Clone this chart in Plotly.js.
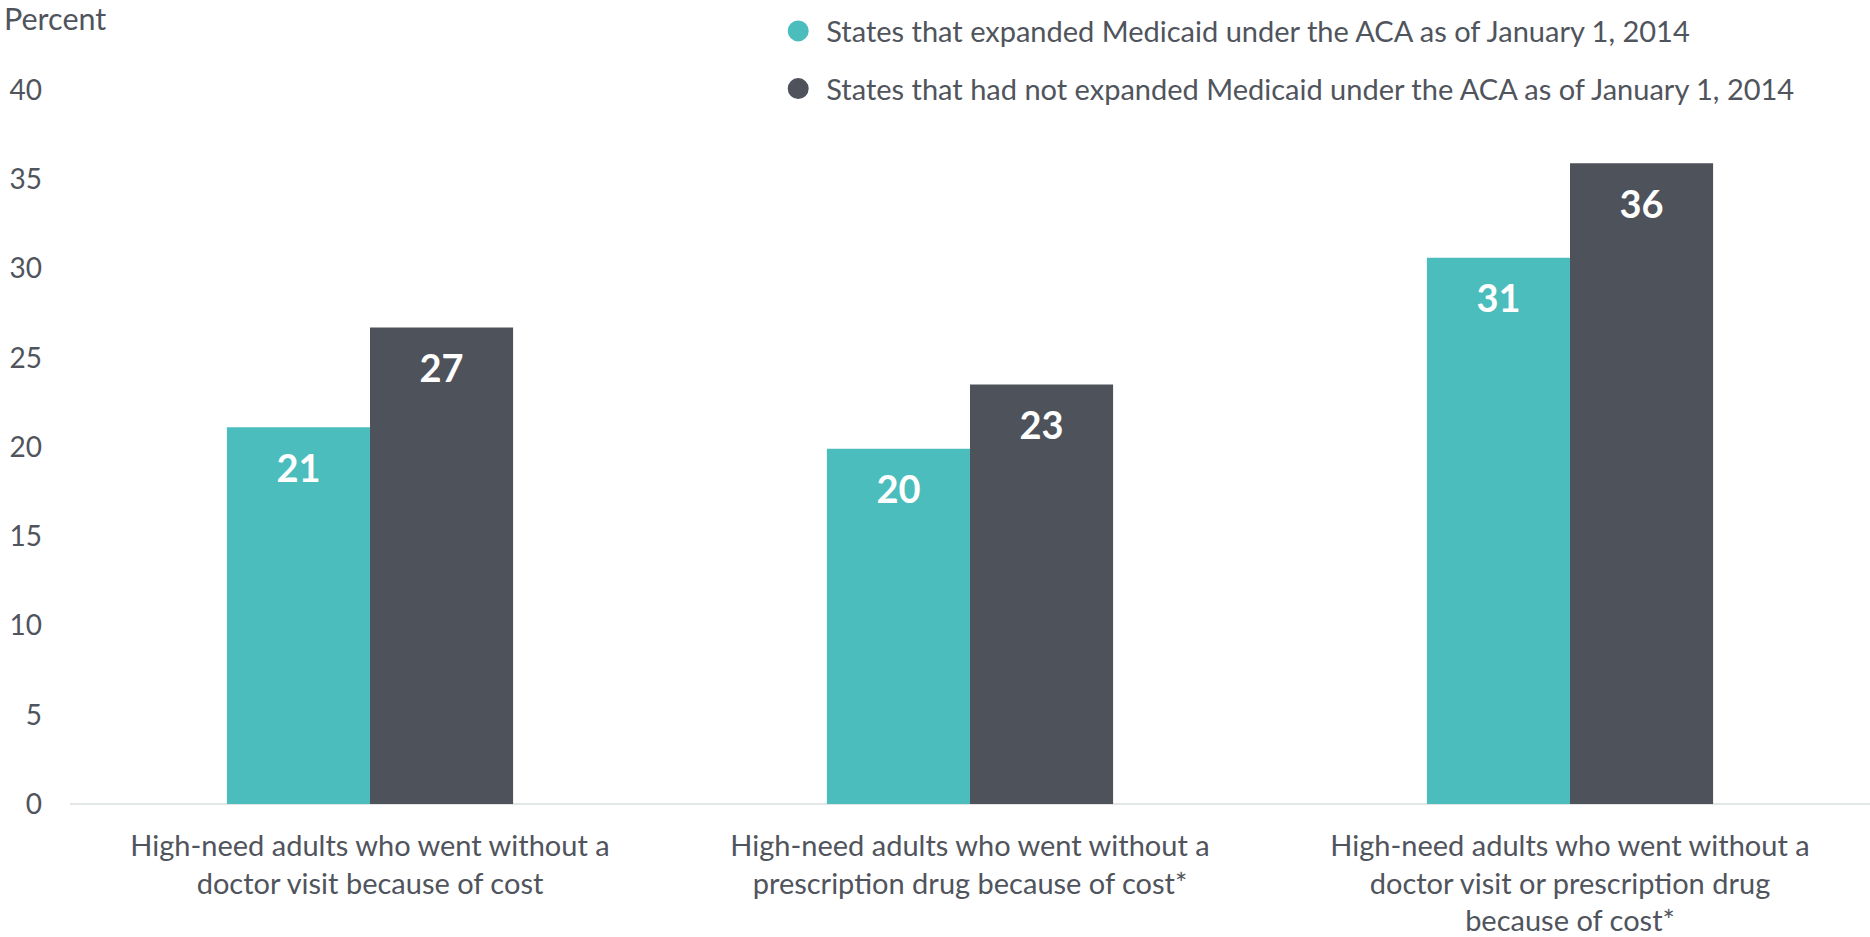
<!DOCTYPE html>
<html>
<head>
<meta charset="utf-8">
<script src="https://cdn.plot.ly/plotly-3.0.1.min.js"></script>
<style>
html,body{margin:0;padding:0;background:#fff;}
#chart{width:1870px;height:937px;}
</style>
</head>
<body>
<div id="chart"></div>
<script>
var categories = [
  "High-need adults who went without a<br>doctor visit because of cost",
  "High-need adults who went without a<br>prescription drug because of cost*",
  "High-need adults who went without a<br>doctor visit or prescription drug<br>because of cost*"
];
var seriesNames = [
  "States that expanded Medicaid under the ACA as of January 1, 2014",
  "States that had not expanded Medicaid under the ACA as of January 1, 2014"
];
var expandedValues = [21.1, 19.9, 30.6];
var notExpandedValues = [26.7, 23.5, 35.9];
var expandedLabels = ["21", "20", "31"];
var notExpandedLabels = ["27", "23", "36"];
var yTickValues = [0, 5, 10, 15, 20, 25, 30, 35, 40];

var TEAL = "#4bbdbc";
var DARK = "#4e525b";
var TEXT = "#50545c";
var FONT = "Lato, 'Open Sans', sans-serif";

var labelFont = {family: FONT, size: 38, color: "#ffffff", weight: "bold"};

var traces = [
  {
    type: "bar", x: categories, y: expandedValues, name: seriesNames[0],
    offsetgroup: "g1", marker: {color: TEAL}, showlegend: false, hoverinfo: "x+y"
  },
  {
    type: "bar", x: categories, y: notExpandedValues, name: seriesNames[1],
    offsetgroup: "g2", marker: {color: DARK}, showlegend: false, hoverinfo: "x+y"
  },
  {
    type: "scatter", mode: "markers+text", x: categories, y: expandedValues, text: expandedLabels,
    offsetgroup: "g1", textposition: "bottom center", textfont: labelFont,
    marker: {size: 40, opacity: 0}, showlegend: false, hoverinfo: "skip", cliponaxis: false
  },
  {
    type: "scatter", mode: "markers+text", x: categories, y: notExpandedValues, text: notExpandedLabels,
    offsetgroup: "g2", textposition: "bottom center", textfont: labelFont,
    marker: {size: 40, opacity: 0}, showlegend: false, hoverinfo: "skip", cliponaxis: false
  },
  {
    type: "scatter", mode: "markers", x: [null], y: [null], name: seriesNames[0],
    offsetgroup: "g1", legendgroup: "a",
    marker: {color: TEAL, size: 16, symbol: "circle", line: {color: TEAL, width: 5}},
    showlegend: true, hoverinfo: "skip"
  },
  {
    type: "scatter", mode: "markers", x: [null], y: [null], name: seriesNames[1],
    offsetgroup: "g2", legendgroup: "b",
    marker: {color: DARK, size: 16, symbol: "circle", line: {color: DARK, width: 5}},
    showlegend: true, hoverinfo: "skip"
  }
];

var layout = {
  width: 1870, height: 937,
  margin: {l: 70, r: 0, t: 89.5, b: 133, pad: 0},
  paper_bgcolor: "#ffffff", plot_bgcolor: "#ffffff",
  font: {family: FONT, size: 28, color: TEXT},
  barmode: "group", bargap: 0.523, bargroupgap: 0,
  scattermode: "group", scattergap: 0.523,
  showlegend: true,
  legend: {
    x: 0.389, xanchor: "left", y: 1.1183, yanchor: "top",
    orientation: "v", traceorder: "grouped", tracegroupgap: 17,
    itemwidth: 46,
    font: {family: FONT, size: 29, color: TEXT},
    bgcolor: "rgba(0,0,0,0)", itemclick: false
  },
  xaxis: {
    type: "category", showgrid: false, zeroline: false, showline: false,
    ticks: "", tickfont: {family: FONT, size: 29, color: TEXT},
    ticklabelstandoff: 22, fixedrange: true
  },
  yaxis: {
    range: [0, 40], tickvals: yTickValues, showgrid: false,
    zeroline: true, zerolinecolor: "#e3e6e6", zerolinewidth: 2,
    showline: false, ticks: "", tickfont: {family: FONT, size: 28, color: TEXT},
    ticklabelstandoff: 27, fixedrange: true
  },
  annotations: [
    {
      text: "Percent", xref: "paper", yref: "paper",
      x: -68 / 1800, xanchor: "left", y: 1 + (89.5 - 17) / 714.5, yanchor: "middle",
      showarrow: false, font: {family: FONT, size: 30.5, color: TEXT}
    }
  ]
};

Plotly.newPlot("chart", traces, layout, {displayModeBar: false, staticPlot: true});
</script>
</body>
</html>
